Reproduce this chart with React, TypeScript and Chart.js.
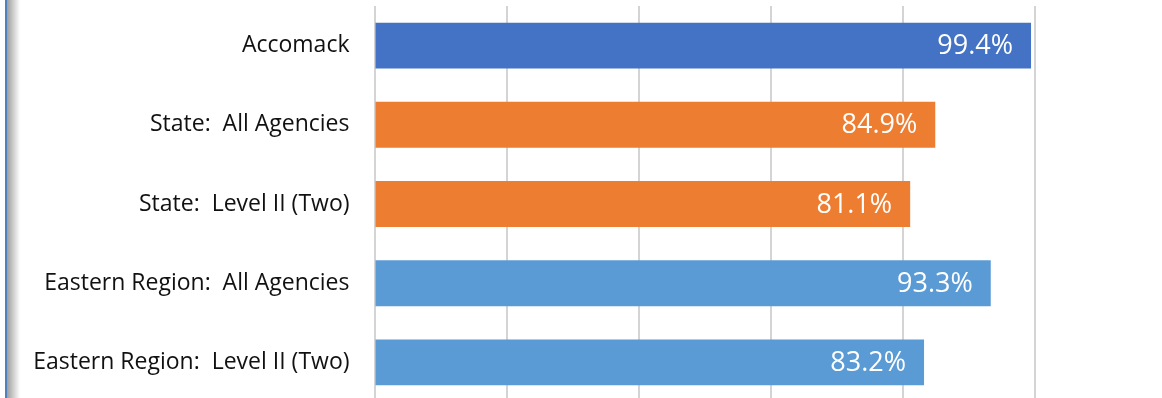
import React, { useEffect, useRef } from "react";
import { Chart, registerables } from "chart.js";

Chart.register(...registerables);

const categories = [
  "Accomack",
  "State:  All Agencies",
  "State:  Level II (Two)",
  "Eastern Region:  All Agencies",
  "Eastern Region:  Level II (Two)",
];
const values = [99.4, 84.9, 81.1, 93.3, 83.2];
const barColors = ["#4472C4", "#ED7D31", "#ED7D31", "#5B9BD5", "#5B9BD5"];
const axisMin = 0;
const axisMax = 100;
const axisStep = 20;

const valueLabelPlugin = {
  id: "valueLabels",
  afterDatasetsDraw(chart: any) {
    const ctx = chart.ctx;
    const meta = chart.getDatasetMeta(0);
    ctx.save();
    ctx.font = "27px 'Open Sans'";
    ctx.fillStyle = "#ffffff";
    ctx.textAlign = "right";
    ctx.textBaseline = "middle";
    meta.data.forEach((el: any, i: number) => {
      const v = chart.data.datasets[0].data[i];
      ctx.fillText(v.toFixed(1) + "%", el.x - 18, el.y + 1);
    });
    ctx.restore();
  },
};

export default function App() {
  const ref = useRef<HTMLCanvasElement>(null);
  useEffect(() => {
    if (!ref.current) return;
    const chart = new Chart(ref.current, {
      type: "bar",
      data: {
        labels: categories,
        datasets: [
          {
            data: values,
            backgroundColor: barColors,
            borderWidth: 0,
            barPercentage: 0.58,
            categoryPercentage: 1,
          },
        ],
      },
      options: {
        indexAxis: "y",
        animation: false,
        responsive: false,
        maintainAspectRatio: false,
        layout: { padding: { top: 6, right: 127, bottom: 0, left: 0 } },
        plugins: { legend: { display: false }, tooltip: { enabled: false } },
        scales: {
          x: {
            min: axisMin,
            max: axisMax,
            ticks: { display: false, stepSize: axisStep },
            grid: { color: "#d4d4d4", lineWidth: 2, drawTicks: false },
            border: { display: false },
            afterFit(scale: any) {
              scale.height = 0;
              scale.paddingLeft = 0;
              scale.paddingRight = 0;
            },
          },
          y: {
            ticks: {
              color: "#111111",
              font: { family: "'Open Sans'", size: 23 },
              padding: 25,
            },
            grid: { display: false, drawTicks: false },
            border: { display: false },
            afterFit(scale: any) {
              scale.width = 374.5;
              scale.paddingTop = 0;
              scale.paddingBottom = 0;
            },
          },
        },
      },
      plugins: [valueLabelPlugin],
    });
    return () => chart.destroy();
  }, []);

  return (
    <div
      style={{
        position: "fixed",
        left: 0,
        top: 0,
        width: 1162,
        height: 398,
        overflow: "hidden",
        background: "#ffffff",
      }}
    >
      <canvas ref={ref} width={1162} height={402} style={{ display: "block" }} />
      <div
        style={{
          position: "absolute",
          left: 5,
          top: 0,
          width: 2,
          height: 398,
          background: "#4f81bd",
        }}
      />
      <div
        style={{
          position: "absolute",
          left: 7,
          top: 0,
          width: 13,
          height: 398,
          background: "linear-gradient(to right, rgba(0,0,0,0.38), rgba(0,0,0,0))",
        }}
      />
    </div>
  );
}
